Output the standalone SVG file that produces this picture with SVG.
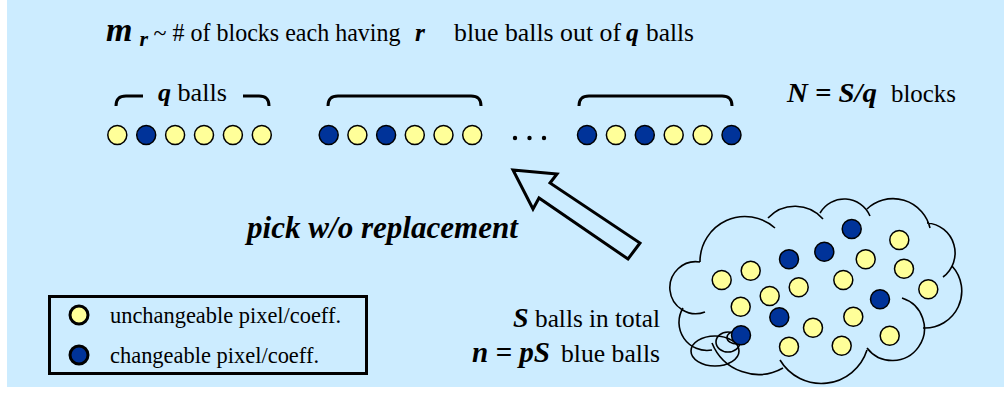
<svg xmlns="http://www.w3.org/2000/svg" width="1004" height="396" viewBox="0 0 1004 396">
<style>
.t{font-family:"Liberation Serif","Times New Roman",serif;fill:#000}
.bi{font-weight:bold;font-style:italic}
.y{fill:#FFFF99;stroke:#000;stroke-width:1.5}
.b{fill:#003399;stroke:#000;stroke-width:1.5}
.ln{fill:none;stroke:#000;stroke-width:1.6}
.br{fill:none;stroke:#000;stroke-width:3}
</style>
<rect x="0" y="0" width="1004" height="396" fill="#fff"/>
<rect x="7" y="0" width="997" height="387" fill="#CCECFF"/>

<g id="title">
<text class="t bi" x="106" y="41" font-size="34">m</text>
<text class="t bi" x="139.5" y="46" font-size="22">r</text>
<text class="t" x="153.5" y="41" font-size="25.5" textLength="247" lengthAdjust="spacingAndGlyphs">~ # of blocks each having</text>
<text class="t bi" x="415" y="41" font-size="25.5">r</text>
<text class="t" x="454" y="41" font-size="25.5" textLength="167" lengthAdjust="spacingAndGlyphs">blue balls out of</text>
<text class="t bi" x="626" y="41" font-size="25.5">q</text>
<text class="t" x="646" y="41" font-size="25.5" textLength="48" lengthAdjust="spacingAndGlyphs">balls</text>
</g>

<g id="braces">
<path class="br" d="M116,106 C116,99 119,96 126,96 H143"/>
<path class="br" d="M243,96 H259 C266,96 269,99 269,106"/>
<text class="t bi" x="158" y="101" font-size="26">q</text>
<text class="t" x="177.5" y="101" font-size="26" textLength="49.5" lengthAdjust="spacingAndGlyphs">balls</text>
<path class="br" d="M328,106 C328,99 331,96 338,96 H471 C478,96 481,99 481,106"/>
<path class="br" d="M579,106 C579,99 582,96 589,96 H722 C729,96 732,99 732,106"/>
</g>

<g id="block1">
<circle class="y" cx="117.3" cy="135" r="9.5"/>
<circle class="b" cx="146.2" cy="135" r="9.5"/>
<circle class="y" cx="175.1" cy="135" r="9.5"/>
<circle class="y" cx="204" cy="135" r="9.5"/>
<circle class="y" cx="232.9" cy="135" r="9.5"/>
<circle class="y" cx="261.8" cy="135" r="9.5"/>
</g>
<g id="block2">
<circle class="b" cx="328.7" cy="135" r="9.5"/>
<circle class="y" cx="357.4" cy="135" r="9.5"/>
<circle class="b" cx="386.1" cy="135" r="9.5"/>
<circle class="y" cx="414.8" cy="135" r="9.5"/>
<circle class="y" cx="443.5" cy="135" r="9.5"/>
<circle class="y" cx="472.2" cy="135" r="9.5"/>
</g>
<g id="dots">
<circle cx="515" cy="138" r="2.2" fill="#000"/>
<circle cx="529.5" cy="138" r="2.2" fill="#000"/>
<circle cx="544" cy="138" r="2.2" fill="#000"/>
</g>
<g id="block3">
<circle class="b" cx="587" cy="135" r="9.5"/>
<circle class="y" cx="615.9" cy="135" r="9.5"/>
<circle class="b" cx="644.8" cy="135" r="9.5"/>
<circle class="y" cx="673.7" cy="135" r="9.5"/>
<circle class="y" cx="702.6" cy="135" r="9.5"/>
<circle class="b" cx="731.5" cy="135" r="9.5"/>
</g>

<g id="nblocks">
<text class="t bi" x="787" y="102" font-size="28" textLength="90" lengthAdjust="spacingAndGlyphs">N = S/q</text>
<text class="t" x="891" y="102" font-size="26" textLength="65" lengthAdjust="spacingAndGlyphs">blocks</text>
</g>

<g id="connectors">
<polygon points="513,170 557,174 550,183 640,243 628,259 539,198 533,209" fill="#CCECFF" stroke="#000" stroke-width="3" stroke-linejoin="miter"/>
</g>

<g id="pick">
<text class="t bi" x="247" y="238" font-size="31" textLength="271" lengthAdjust="spacingAndGlyphs">pick w/o replacement</text>
</g>

<g id="cloud">
<path class="ln" d="M700,262 A45,45 0 0 1 775,228 M768,218 A37,37 0 0 1 823,219 M820,213 A28,28 0 0 1 870,216 M867,209 A38,38 0 0 1 930,228 M927,223 A30,30 0 0 1 943,277 M952,266 A37,37 0 0 1 923,328 M902,298 A32,32 0 1 1 867,348 M867,350 A48,48 0 0 1 780,360 M783,368 A50,50 0 0 1 712,343 M712,350 A28,28 0 0 1 683,308 M705,312 A26,26 0 1 1 700,262"/>
<ellipse class="ln" cx="715" cy="351" rx="24" ry="15"/>
<ellipse class="ln" cx="728" cy="342" rx="12" ry="10"/>
<ellipse class="ln" cx="737" cy="337.5" rx="10" ry="6.5"/>
<circle class="b" cx="851.7" cy="229" r="9.5"/>
<circle class="b" cx="824.3" cy="251.7" r="9.5"/>
<circle class="b" cx="789" cy="259.3" r="9.5"/>
<circle class="b" cx="880" cy="299.3" r="9.5"/>
<circle class="b" cx="779.3" cy="317.3" r="9.5"/>
<circle class="b" cx="741" cy="335.3" r="9.5"/>
<circle class="y" cx="899.3" cy="240" r="9.5"/>
<circle class="y" cx="865.7" cy="259.3" r="9.5"/>
<circle class="y" cx="904" cy="268.7" r="9.5"/>
<circle class="y" cx="928.3" cy="289.3" r="9.5"/>
<circle class="y" cx="750.7" cy="270.7" r="9.5"/>
<circle class="y" cx="721.7" cy="280" r="9.5"/>
<circle class="y" cx="843.3" cy="280" r="9.5"/>
<circle class="y" cx="798.7" cy="287.3" r="9.5"/>
<circle class="y" cx="769.7" cy="296" r="9.5"/>
<circle class="y" cx="740.7" cy="306.7" r="9.5"/>
<circle class="y" cx="853.3" cy="316.7" r="9.5"/>
<circle class="y" cx="813" cy="327.7" r="9.5"/>
<circle class="y" cx="889.7" cy="335.7" r="9.5"/>
<circle class="y" cx="789" cy="346.7" r="9.5"/>
<circle class="y" cx="841.7" cy="345.7" r="9.5"/>
</g>

<g id="totals">
<text class="t bi" x="513" y="327" font-size="28">S</text>
<text class="t" x="535" y="327" font-size="25.5" textLength="125" lengthAdjust="spacingAndGlyphs">balls in total</text>
<text class="t bi" x="472" y="362" font-size="29" textLength="78" lengthAdjust="spacingAndGlyphs">n = pS</text>
<text class="t" x="561" y="362" font-size="25.5" textLength="99" lengthAdjust="spacingAndGlyphs">blue balls</text>
</g>

<g id="legend">
<rect x="49.5" y="296.5" width="317" height="77" fill="none" stroke="#000" stroke-width="3"/>
<circle cx="79" cy="315" r="9" class="y" style="stroke-width:3"/>
<circle cx="79" cy="355" r="9" class="b" style="stroke-width:3"/>
<text class="t" x="110" y="323" font-size="22.4" textLength="231" lengthAdjust="spacingAndGlyphs">unchangeable pixel/coeff.</text>
<text class="t" x="110" y="363" font-size="22.4" textLength="209" lengthAdjust="spacingAndGlyphs">changeable pixel/coeff.</text>
</g>
</svg>
